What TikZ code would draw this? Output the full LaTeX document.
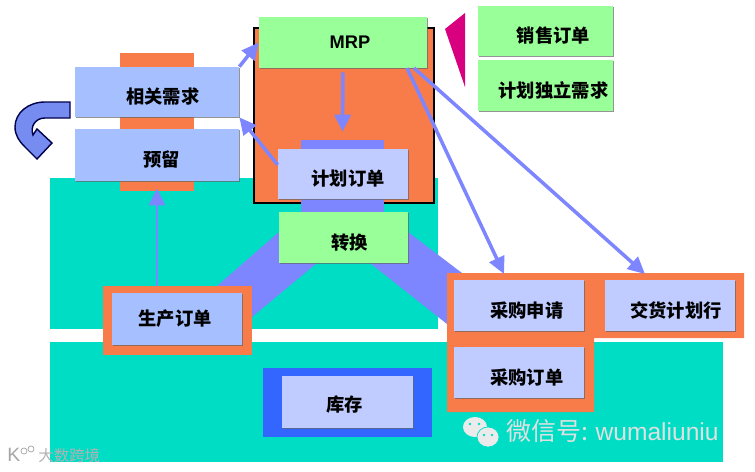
\documentclass[tikz,border=0pt]{standalone}
\usepackage{fontspec}
\setmainfont{Noto Sans CJK SC}
\newfontfamily\latinfont{Liberation Sans}
\usepackage{tikz}
\usetikzlibrary{positioning,arrows.meta,shadows}
\usepackage{xcolor}
\definecolor{tealbg}{RGB}{0,221,197}
\definecolor{orangebg}{RGB}{247,124,74}
\definecolor{leafgreen}{RGB}{153,255,153}
\definecolor{paleblue}{RGB}{166,192,255}
\definecolor{lilac}{RGB}{192,204,255}
\definecolor{flowblue}{RGB}{125,134,255}
\definecolor{turnblue}{RGB}{118,140,240}
\definecolor{stockblue}{RGB}{51,102,255}
\definecolor{wedge}{RGB}{217,0,127}

\begin{document}
\begin{tikzpicture}[x=0.02cm,y=-0.02cm,
    boxsize/.style 2 args={minimum width=#1*0.02cm,minimum height=#2*0.02cm,inner sep=0pt},
    plate/.style={rectangle,fill=#1},
    card/.style={rectangle,fill=#1,font=\fontsize{10.4}{12}\selectfont\bfseries,text=black,
      text height=0.52cm,text depth=0.044cm,
      drop shadow={shadow xshift=0.5pt,shadow yshift=-0.6pt,fill=black!60,opacity=0.7}},
    flowline/.style={draw=flowblue,line width=2pt,-{Triangle[length=0.34cm,width=0.32cm]}},
    mark text/.style={text=white!88!black,font=\fontsize{#1}{#1}\selectfont}]
\useasboundingbox (0,0) rectangle (755,471);
% background bands
\node[plate=tealbg,boxsize={388}{151}] (upperband) at (244,253.5) {};
\node[plate=tealbg,boxsize={673}{120}] (lowerband) at (386.5,402) {};
\fill[flowblue] (279,232) -- (217,286) -- (252,317) -- (317,263) -- cycle;
\fill[flowblue] (408,232) -- (462,273) -- (447,284) -- (447,324) -- (370,263) -- cycle;
% orange backs
\node[plate=orangebg,boxsize={74}{138}] (needback) at (157,122) {};
\node[plate=orangebg,draw=black,thick,boxsize={180}{175}] (mrpback) at (344,115.5) {};
\node[plate=flowblue,boxsize={83}{73}] (planback) at (342.5,176.5) {};
\node[plate=orangebg,boxsize={149}{69}] (prodback) at (177.5,320.5) {};
\node[plate=stockblue,boxsize={169}{69}] (stockback) at (347.5,402.5) {};
\fill[orangebg] (447,273) -- (744,273) -- (744,338) -- (594,338) -- (594,412) -- (447,412) -- cycle;
% cards
\node[card=leafgreen,boxsize={168}{51},text height=0.25cm,text depth=0cm,font=\latinfont\fontsize{10.4}{12}\selectfont\bfseries] (mrp) at (343,42.5) {\hspace*{0.28cm}MRP};
\node[card=leafgreen,boxsize={135}{50}] (sales) at (545.5,31) {\hspace*{0.32cm}销售订单};
\node[card=leafgreen,boxsize={135}{51}] (indep) at (545.5,85.5) {\hspace*{0.32cm}计划独立需求};
\node[card=paleblue,boxsize={164}{50}] (need) at (157,92) {\hspace*{0.24cm}相关需求};
\node[card=paleblue,boxsize={164}{52}] (reserve) at (157,155) {\hspace*{0.2cm}预留};
\node[card=lilac,boxsize={130}{50}] (plan) at (343,174) {\hspace*{0.2cm}计划订单};
\node[card=leafgreen,boxsize={129}{51}] (convert) at (343.5,237.5) {\hspace*{0.24cm}转换};
\node[card=paleblue,boxsize={130}{52},text height=0.3cm] (prod) at (177,319) {\hspace*{-0.08cm}生产订单};
\node[card=lilac,boxsize={131}{52},text height=0.44cm] (stock) at (347.5,402) {\hspace*{-0.12cm}库存};
\node[card=lilac,boxsize={130}{51}] (request) at (519,305.5) {\hspace*{0.32cm}采购申请};
\node[card=lilac,boxsize={130}{51}] (purchase) at (519,372.5) {\hspace*{0.32cm}采购订单};
\node[card=lilac,boxsize={130}{51}] (delivery) at (670,305.5) {\hspace*{0.24cm}交货计划行};
% wedge and turn arrow
\fill[wedge] (445,29) -- (465,13) -- (465,87) -- cycle;
\filldraw[fill=turnblue,draw=black!70!blue,thick] (70,102) -- (45,102)
  .. controls (28,102) and (15,113) .. (15,127)
  .. controls (15,135) and (19,141) .. (25,147) -- (37,159) -- (52,143) -- (37,129) -- (33,135)
  .. controls (30,127) and (35,118) .. (45,118) -- (70,118) -- cycle;
% flows
\coordinate (requestin) at (504,274);
\coordinate (deliveryin) at (645,274);
\coordinate (mrpleft) at (407,68);
\coordinate (mrpright) at (414,68);
\draw[flowline] (need.north east) -- (mrp.west);
\draw[flowline] (plan.172) -- (need.south east);
\draw[flowline,shorten <=0.08cm,shorten >=0.16cm] (mrp.south) -- (planback.north);
\draw[flowline,line width=1.6pt] (reserve.south |- prodback.north) -- ([yshift=-0.14cm]reserve.south);
\draw[flowline] (mrpleft) -- (requestin);
\draw[flowline] (mrpright) -- (deliveryin);
% watermarks
\fill[white!92!black] (475,427) ellipse (12 and 10);
\filldraw[fill=white!92!black,draw=tealbg] (488,437) ellipse (11 and 10);
\fill[tealbg] (470,424) circle (1.3) (479,424) circle (1.3) (484,435) circle (1.3) (492,435) circle (1.3);
\node[mark text=14.2,anchor=west,inner sep=0pt] (wechat) at (506,431) {微信号: {\latinfont\fontsize{14}{14}\selectfont wumaliuniu}};
\node[text=black!35,font=\latinfont\fontsize{11}{11}\selectfont,anchor=west,inner sep=0pt] (logo) at (7,455) {K};
\draw[black!35] (24,451) circle (3) (31,449) circle (3);
\node[mark text=8.8,anchor=west,inner sep=0pt,text=black!30] (crossborder) at (38,456) {大数跨境};
\end{tikzpicture}
\end{document}
